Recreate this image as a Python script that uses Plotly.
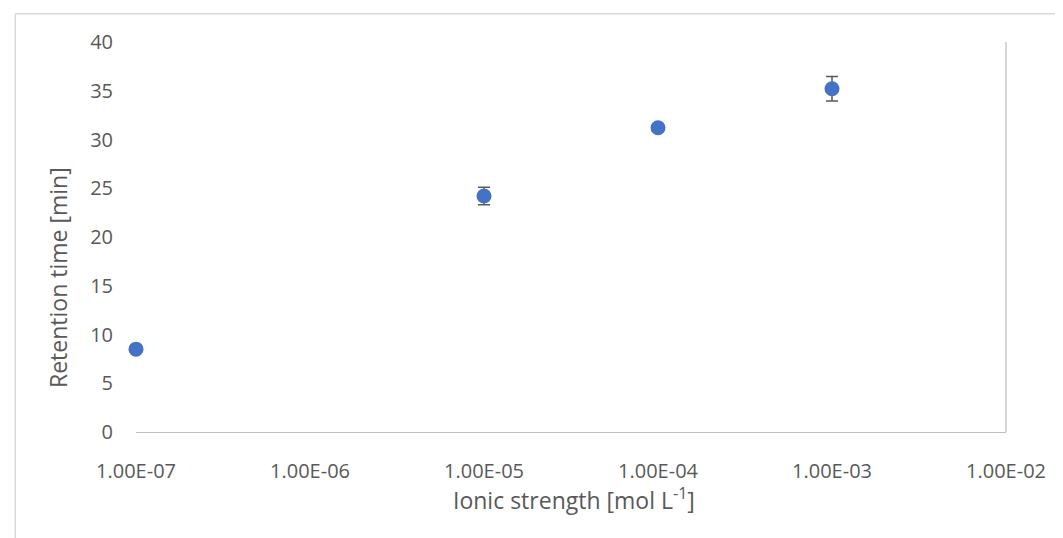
import plotly.graph_objects as go

ionic_strength = [1e-7, 1e-5, 1e-4, 1e-3]
retention_time = [8.5, 24.2, 31.2, 35.2]
retention_err = [0.0, 0.9, 0.0, 1.25]

x_tickvals = [1e-7, 1e-6, 1e-5, 1e-4, 1e-3, 1e-2]
x_ticktext = ["1.00E-07", "1.00E-06", "1.00E-05", "1.00E-04", "1.00E-03", "1.00E-02"]
y_tickvals = [0, 5, 10, 15, 20, 25, 30, 35, 40]

FONT = "Open Sans"
TXT = "#595959"

fig = go.Figure()
fig.add_trace(go.Scatter(
    x=ionic_strength, y=retention_time, mode="markers",
    marker=dict(color="#4472C4", size=15),
    error_y=dict(type="data", array=retention_err, visible=True,
                 color="#595959", thickness=1.5, width=6),
    cliponaxis=False,
    showlegend=False,
))

W, H = 1063, 538
L, R, T, B = 128, 65, 34, 114
pw, ph = W - L - R, H - T - B

def px_x(p):
    return (p - L) / pw

def px_y(p):
    return (H - B - p) / ph

fig.update_layout(
    width=W, height=H,
    margin=dict(l=L, r=R, t=T, b=B),
    paper_bgcolor="white", plot_bgcolor="white",
    font=dict(family=FONT, size=20, color=TXT),
    xaxis=dict(type="log", range=[-7, -2], tickvals=x_tickvals, ticktext=x_ticktext,
               showgrid=False, zeroline=False, showline=True, linecolor="#bfbfbf",
               linewidth=1.3, ticks="", ticklabelstandoff=21,
               tickfont=dict(family=FONT, size=20, color=TXT)),
    yaxis=dict(range=[0, 40], tickvals=y_tickvals, showgrid=False, zeroline=False,
               showline=False, ticks="", ticklabelstandoff=22,
               tickfont=dict(family=FONT, size=20, color=TXT)),
    shapes=[
        dict(type="line", xref="paper", yref="paper", x0=1, x1=1, y0=0, y1=1,
             line=dict(color="#bfbfbf", width=1.3)),
        dict(type="line", xref="paper", yref="paper", x0=px_x(7.3), x1=px_x(1100),
             y0=px_y(5.7), y1=px_y(5.7), line=dict(color="#d9d9d9", width=1.5)),
        dict(type="line", xref="paper", yref="paper", x0=px_x(7.3), x1=px_x(7.3),
             y0=px_y(5.7), y1=px_y(600), line=dict(color="#d9d9d9", width=1.5)),
    ],
    annotations=[
        dict(text="Ionic strength [mol L<sup>-1</sup>]", xref="paper", yref="paper",
             x=px_x(566), y=px_y(491), xanchor="center", yanchor="middle",
             showarrow=False, font=dict(family=FONT, size=23, color=TXT)),
        dict(text="Retention time [min]", xref="paper", yref="paper",
             x=px_x(50), y=px_y(270), xanchor="center", yanchor="middle",
             textangle=-90, showarrow=False, font=dict(family=FONT, size=23, color=TXT)),
    ],
)

fig.write_html("out.html")
